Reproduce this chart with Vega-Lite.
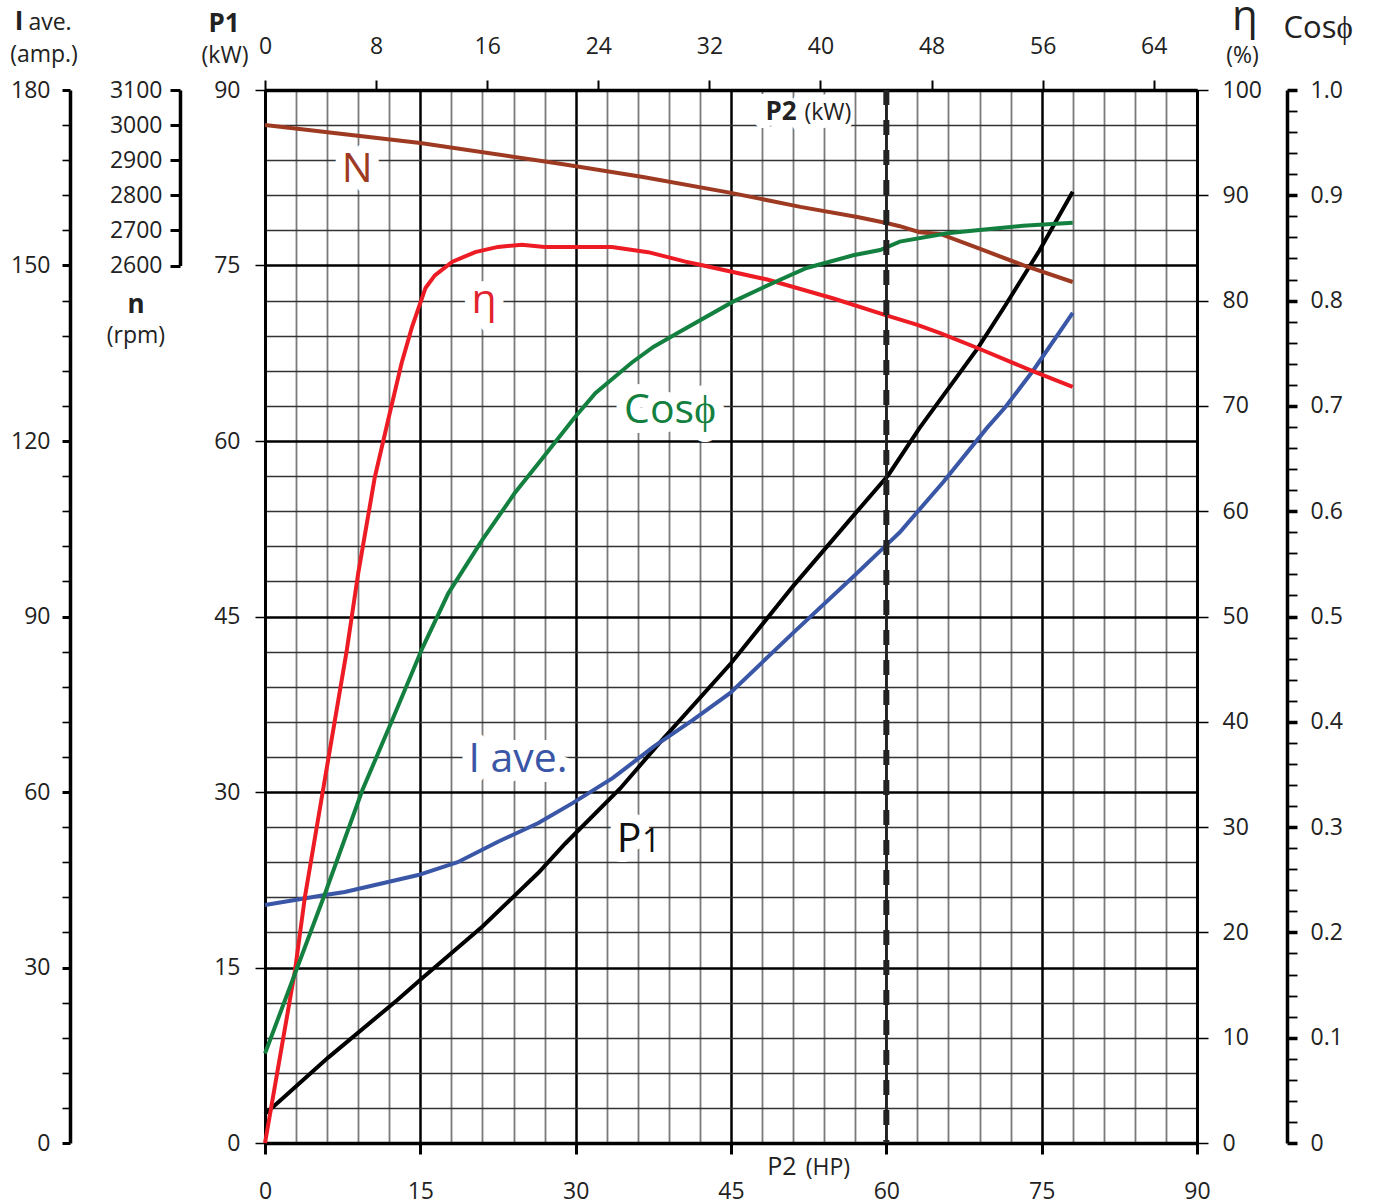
{
  "$schema": "https://vega.github.io/schema/vega-lite/v6.json",
  "width": 932,
  "height": 1053,
  "autosize": "none",
  "padding": {"left": 265, "top": 90, "right": 176, "bottom": 61},
  "background": "white",
  "config": {
    "font": "Open Sans",
    "view": {"stroke": null},
    "axis": {"labelFont": "Open Sans", "labelColor": "#222222", "labelFontSize": 23, "domainColor": "#000000", "tickColor": "#000000", "titleFont": "Open Sans", "grid": false, "labelFlush": false, "labelOverlap": false}
  },
  "datasets": {
    "p1": [{"hp":0,"kw":2.5},{"hp":0.8,"kw":3.1},{"hp":6.1,"kw":7.3},{"hp":12.75,"kw":12.2},{"hp":15.2,"kw":14.1},{"hp":21.0,"kw":18.5},{"hp":26.4,"kw":23.1},{"hp":29.0,"kw":25.6},{"hp":34.3,"kw":30.3},{"hp":38.1,"kw":34.2},{"hp":45.0,"kw":41.0},{"hp":51.0,"kw":47.6},{"hp":56.8,"kw":53.6},{"hp":60.2,"kw":57.1},{"hp":63.2,"kw":61.1},{"hp":68.8,"kw":67.9},{"hp":71.5,"kw":71.6},{"hp":74.8,"kw":76.3},{"hp":78.0,"kw":81.3}],
    "iave": [{"hp":0,"amp":40.7},{"hp":5.8,"amp":42.4},{"hp":7.7,"amp":42.9},{"hp":14.8,"amp":45.8},{"hp":18.6,"amp":48.0},{"hp":22.5,"amp":51.5},{"hp":26.4,"amp":54.7},{"hp":29.7,"amp":58.1},{"hp":33.6,"amp":62.4},{"hp":37.5,"amp":67.7},{"hp":41.3,"amp":72.3},{"hp":44.9,"amp":76.9},{"hp":51.0,"amp":87.2},{"hp":56.8,"amp":96.8},{"hp":60.0,"amp":102.2},{"hp":61.3,"amp":104.4},{"hp":65.5,"amp":113.0},{"hp":69.7,"amp":122.2},{"hp":71.5,"amp":125.8},{"hp":74.2,"amp":132.1},{"hp":78.0,"amp":141.9}],
    "eta": [{"hp":0,"eta":0},{"hp":1.45,"eta":8.2},{"hp":2.9,"eta":16.4},{"hp":3.86,"eta":23.4},{"hp":5.6,"eta":33.5},{"hp":7.9,"eta":46.8},{"hp":9.0,"eta":54.1},{"hp":10.6,"eta":63.2},{"hp":11.9,"eta":68.7},{"hp":13.2,"eta":74.1},{"hp":14.2,"eta":77.5},{"hp":15.5,"eta":81.2},{"hp":16.4,"eta":82.4},{"hp":18.1,"eta":83.7},{"hp":20.3,"eta":84.6},{"hp":22.5,"eta":85.1},{"hp":24.8,"eta":85.3},{"hp":27.0,"eta":85.1},{"hp":33.5,"eta":85.1},{"hp":37.0,"eta":84.6},{"hp":40.6,"eta":83.7},{"hp":42.0,"eta":83.4},{"hp":48.5,"eta":82.0},{"hp":54.9,"eta":80.2},{"hp":60.0,"eta":78.6},{"hp":63.0,"eta":77.7},{"hp":65.2,"eta":76.9},{"hp":68.8,"eta":75.5},{"hp":73.9,"eta":73.4},{"hp":78.0,"eta":71.8}],
    "cos": [{"hp":0,"cos":0.085},{"hp":2.9,"cos":0.161},{"hp":5.8,"cos":0.237},{"hp":9.4,"cos":0.335},{"hp":12.3,"cos":0.402},{"hp":15.2,"cos":0.47},{"hp":17.7,"cos":0.522},{"hp":21.0,"cos":0.573},{"hp":24.1,"cos":0.617},{"hp":26.7,"cos":0.649},{"hp":29.9,"cos":0.689},{"hp":31.9,"cos":0.712},{"hp":35.4,"cos":0.741},{"hp":37.5,"cos":0.756},{"hp":39.8,"cos":0.769},{"hp":45.2,"cos":0.799},{"hp":49.1,"cos":0.817},{"hp":52.3,"cos":0.831},{"hp":56.8,"cos":0.843},{"hp":59.4,"cos":0.848},{"hp":61.3,"cos":0.856},{"hp":65.9,"cos":0.864},{"hp":69.0,"cos":0.867},{"hp":73.2,"cos":0.871},{"hp":78.0,"cos":0.874}],
    "rpm": [{"hp":0,"rpm":3000},{"hp":15.0,"rpm":2949},{"hp":28.5,"rpm":2890},{"hp":36.5,"rpm":2852},{"hp":45.0,"rpm":2807},{"hp":51.7,"rpm":2767},{"hp":57.2,"rpm":2738},{"hp":60.0,"rpm":2721},{"hp":61.3,"rpm":2712},{"hp":63.2,"rpm":2695},{"hp":65.2,"rpm":2690},{"hp":69.0,"rpm":2648},{"hp":73.2,"rpm":2601},{"hp":78.0,"rpm":2553}],
    "labels": [{"text":"N","hp":8.91,"kw":82.16,"curve":"N"},{"text":"η","hp":21.15,"kw":70.91,"curve":"η"},{"text":"Cosϕ","hp":39.1,"kw":61.5,"curve":"Cosϕ"},{"text":"I ave.","hp":24.43,"kw":31.74,"curve":"I ave."},{"text":"P","hp":35.15,"kw":24.9,"curve":"P1"}],
    "labelSub": [{"text":"1","hp":37.3,"kw":24.9,"curve":"P1"}]
  },
  "layer": [
    {
      "data": {"name": "p1"},
      "mark": {"type": "line", "color": "#000000", "strokeWidth": 4},
      "encoding": {
        "x": {"field": "hp", "type": "quantitative", "scale": {"domain": [0, 90], "nice": false, "zero": false},
          "axis": {"orient": "bottom", "title": null, "values": [0,3,6,9,12,15,18,21,24,27,30,33,36,39,42,45,48,51,54,57,60,63,66,69,72,75,78,81,84,87,90],
            "grid": true,
            "gridColor": {"condition": {"test": "datum.value % 15 === 0", "value": "#000000"}, "value": "#7a7a7a"},
            "gridWidth": {"condition": {"test": "datum.value % 15 === 0", "value": 2.5}, "value": 1.8},
            "tickOpacity": {"condition": {"test": "datum.value % 15 === 0", "value": 1}, "value": 0},
            "tickSize": 11, "tickWidth": 3, "domainWidth": 3.5,
            "labelExpr": "datum.value % 15 === 0 ? datum.label : ''",
            "labelBaseline": "alphabetic", "labelPadding": 44}},
        "y": {"field": "kw", "type": "quantitative", "scale": {"domain": [0, 90], "nice": false, "zero": false},
          "axis": {"orient": "left", "title": null, "values": [0,3,6,9,12,15,18,21,24,27,30,33,36,39,42,45,48,51,54,57,60,63,66,69,72,75,78,81,84,87,90],
            "grid": true,
            "gridColor": {"condition": {"test": "datum.value % 15 === 0", "value": "#000000"}, "value": "#333333"},
            "gridWidth": {"condition": {"test": "datum.value % 15 === 0", "value": 2.5}, "value": 1.4},
            "tickOpacity": {"condition": {"test": "datum.value % 15 === 0", "value": 1}, "value": 0},
            "tickSize": 10, "tickWidth": 1.5, "domainWidth": 3,
            "labelExpr": "datum.value % 15 === 0 ? datum.label : ''",
            "labelPadding": 15}}
      }
    },
    {
      "data": {"name": "iave"},
      "mark": {"type": "line", "color": "#3a56a6", "strokeWidth": 4},
      "encoding": {
        "x": {"field": "hp", "type": "quantitative", "scale": {"domain": [0, 90], "nice": false, "zero": false}, "axis": null},
        "y": {"field": "amp", "type": "quantitative", "scale": {"domain": [0, 180], "nice": false, "zero": false},
          "axis": {"orient": "left", "offset": 195, "title": null, "values": [0,6,12,18,24,30,36,42,48,54,60,66,72,78,84,90,96,102,108,114,120,126,132,138,144,150,156,162,168,174,180],
            "tickSize": 8,
            "tickWidth": {"condition": {"test": "datum.value % 30 === 0", "value": 3}, "value": 1.6},
            "domainWidth": 3.5,
            "labelExpr": "datum.value % 30 === 0 ? datum.label : ''",
            "labelPadding": 12}}
      }
    },
    {
      "data": {"name": "rpm"},
      "mark": {"type": "line", "color": "#9e3a22", "strokeWidth": 4},
      "encoding": {
        "x": {"field": "hp", "type": "quantitative", "scale": {"domain": [0, 90], "nice": false, "zero": false}, "axis": null},
        "y": {"field": "rpm", "type": "quantitative", "scale": {"domain": [2600, 3100], "range": [175.5, 0], "nice": false, "zero": false},
          "axis": {"orient": "left", "offset": 85, "title": null, "values": [2600,2700,2800,2900,3000,3100], "format": "d",
            "tickSize": 10, "tickWidth": 3, "domainWidth": 3.5, "labelPadding": 8}}
      }
    },
    {
      "data": {"name": "eta"},
      "mark": {"type": "line", "color": "#ed1c24", "strokeWidth": 4},
      "encoding": {
        "x": {"field": "hp", "type": "quantitative", "scale": {"domain": [0, 90], "nice": false, "zero": false}, "axis": null},
        "y": {"field": "eta", "type": "quantitative", "scale": {"domain": [0, 100], "nice": false, "zero": false},
          "axis": {"orient": "right", "title": null, "values": [0,10,20,30,40,50,60,70,80,90,100],
            "tickSize": 11, "tickWidth": 1.5, "domainWidth": 3, "labelPadding": 14}}
      }
    },
    {
      "data": {"name": "cos"},
      "mark": {"type": "line", "color": "#138040", "strokeWidth": 4},
      "encoding": {
        "x": {"field": "hp", "type": "quantitative", "scale": {"domain": [0, 90], "nice": false, "zero": false}, "axis": null},
        "y": {"field": "cos", "type": "quantitative", "scale": {"domain": [0, 1], "nice": false, "zero": false},
          "axis": {"orient": "right", "offset": 90, "title": null, "values": [0,0.02,0.04,0.06,0.08,0.1,0.12,0.14,0.16,0.18,0.2,0.22,0.24,0.26,0.28,0.3,0.32,0.34,0.36,0.38,0.4,0.42,0.44,0.46,0.48,0.5,0.52,0.54,0.56,0.58,0.6,0.62,0.64,0.66,0.68,0.7,0.72,0.74,0.76,0.78,0.8,0.82,0.84,0.86,0.88,0.9,0.92,0.94,0.96,0.98,1],
            "tickSize": 10,
            "tickWidth": {"condition": {"test": "abs(datum.value*10 - round(datum.value*10)) < 0.001", "value": 3.5}, "value": 1.8},
            "domainWidth": 3.5,
            "labelExpr": "datum.value === 0 ? '0' : (abs(datum.value*10 - round(datum.value*10)) < 0.001 ? format(datum.value, '.1f') : '')",
            "labelPadding": 13}}
      }
    },
    {
      "data": {"values": [{"kwp2": 0}, {"kwp2": 67.113}]},
      "mark": {"type": "point", "opacity": 0},
      "encoding": {
        "x": {"field": "kwp2", "type": "quantitative", "scale": {"domain": [0, 67.113], "nice": false, "zero": false},
          "axis": {"orient": "top", "title": null, "values": [0,8,16,24,32,40,48,56,64], "tickSize": 10, "tickWidth": 2, "domainWidth": 3.5, "labelBaseline": "alphabetic", "labelPadding": 27}},
        "y": {"datum": 45, "type": "quantitative", "scale": {"domain": [0, 90]}, "axis": null}
      }
    },
    {
      "data": {"values": [{"hp": 60}]},
      "mark": {"type": "rule", "color": "#222222", "strokeWidth": 2.5},
      "encoding": {
        "x": {"field": "hp", "type": "quantitative", "scale": {"domain": [0, 90], "nice": false, "zero": false}, "axis": null}
      }
    },
    {
      "data": {"values": [{"hp": 60}]},
      "mark": {"type": "rule", "color": "#222222", "strokeWidth": 6, "strokeDash": [15, 15]},
      "encoding": {
        "x": {"field": "hp", "type": "quantitative", "scale": {"domain": [0, 90], "nice": false, "zero": false}, "axis": null}
      }
    },
    {
      "data": {"name": "labels"},
      "mark": {"type": "text", "fontSize": 41, "align": "center", "baseline": "alphabetic", "fill": "white", "stroke": "white", "strokeWidth": 20, "strokeJoin": "round"},
      "encoding": {
        "x": {"field": "hp", "type": "quantitative", "scale": {"domain": [0, 90], "nice": false, "zero": false}, "axis": null},
        "y": {"field": "kw", "type": "quantitative", "scale": {"domain": [0, 90], "nice": false, "zero": false}, "axis": null},
        "text": {"field": "text"}
      }
    },
    {
      "data": {"name": "labels"},
      "mark": {"type": "text", "fontSize": 41, "align": "center", "baseline": "alphabetic"},
      "encoding": {
        "x": {"field": "hp", "type": "quantitative", "scale": {"domain": [0, 90], "nice": false, "zero": false}, "axis": null},
        "y": {"field": "kw", "type": "quantitative", "scale": {"domain": [0, 90], "nice": false, "zero": false}, "axis": null},
        "text": {"field": "text"},
        "color": {"field": "curve", "type": "nominal", "scale": {"domain": ["N", "η", "Cosϕ", "I ave.", "P1"], "range": ["#9e3a22", "#e3232c", "#138040", "#3a56a6", "#111111"]}, "legend": null}
      }
    },
    {
      "data": {"name": "labelSub"},
      "mark": {"type": "text", "fontSize": 32, "align": "center", "baseline": "alphabetic"},
      "encoding": {
        "x": {"field": "hp", "type": "quantitative", "scale": {"domain": [0, 90], "nice": false, "zero": false}, "axis": null},
        "y": {"field": "kw", "type": "quantitative", "scale": {"domain": [0, 90], "nice": false, "zero": false}, "axis": null},
        "text": {"field": "text"},
        "color": {"field": "curve", "type": "nominal", "scale": {"domain": ["N", "η", "Cosϕ", "I ave.", "P1"], "range": ["#9e3a22", "#e3232c", "#138040", "#3a56a6", "#111111"]}, "legend": null}
      }
    },
    {
      "data": {"values": [{"text": "P2 (kW)", "hp": 52.0, "kw": 87.44}]},
      "mark": {"type": "text", "fontSize": 25, "align": "center", "baseline": "alphabetic", "fill": "white", "stroke": "white", "strokeWidth": 16, "strokeJoin": "round"},
      "encoding": {
        "x": {"field": "hp", "type": "quantitative", "scale": {"domain": [0, 90], "nice": false, "zero": false}, "axis": null},
        "y": {"field": "kw", "type": "quantitative", "scale": {"domain": [0, 90], "nice": false, "zero": false}, "axis": null},
        "text": {"field": "text"}
      }
    },
    {
      "data": {"values": [{"text": "I", "hp": -23.75, "kw": 95.13}, {"text": "P1", "hp": -3.96, "kw": 95.0}, {"text": "n", "hp": -12.46, "kw": 70.94}, {"text": "P2", "hp": 49.83, "kw": 87.44}]},
      "mark": {"type": "text", "fontSize": 26, "fontWeight": "bold", "align": "center", "baseline": "alphabetic", "color": "#222222"},
      "encoding": {
        "x": {"field": "hp", "type": "quantitative", "scale": {"domain": [0, 90], "nice": false, "zero": false}, "axis": null},
        "y": {"field": "kw", "type": "quantitative", "scale": {"domain": [0, 90], "nice": false, "zero": false}, "axis": null},
        "text": {"field": "text"}
      }
    },
    {
      "data": {"values": [{"text": "ave.", "hp": -20.76, "kw": 95.13}, {"text": "(amp.)", "hp": -21.34, "kw": 92.39}, {"text": "(kW)", "hp": -3.86, "kw": 92.3}, {"text": "(rpm)", "hp": -12.46, "kw": 68.38}, {"text": "(%)", "hp": 94.4, "kw": 92.3}, {"text": "(kW)", "hp": 54.36, "kw": 87.44}, {"text": "(HP)", "hp": 54.36, "kw": -2.74}]},
      "mark": {"type": "text", "fontSize": 23, "align": "center", "baseline": "alphabetic", "color": "#222222"},
      "encoding": {
        "x": {"field": "hp", "type": "quantitative", "scale": {"domain": [0, 90], "nice": false, "zero": false}, "axis": null},
        "y": {"field": "kw", "type": "quantitative", "scale": {"domain": [0, 90], "nice": false, "zero": false}, "axis": null},
        "text": {"field": "text"}
      }
    },
    {
      "data": {"values": [{"text": "P2", "hp": 49.92, "kw": -2.74}]},
      "mark": {"type": "text", "fontSize": 25, "align": "center", "baseline": "alphabetic", "color": "#222222"},
      "encoding": {
        "x": {"field": "hp", "type": "quantitative", "scale": {"domain": [0, 90], "nice": false, "zero": false}, "axis": null},
        "y": {"field": "kw", "type": "quantitative", "scale": {"domain": [0, 90], "nice": false, "zero": false}, "axis": null},
        "text": {"field": "text"}
      }
    },
    {
      "data": {"values": [{"text": "η", "hp": 94.63, "kw": 95.13}]},
      "mark": {"type": "text", "fontSize": 42, "align": "center", "baseline": "alphabetic", "color": "#222222"},
      "encoding": {
        "x": {"field": "hp", "type": "quantitative", "scale": {"domain": [0, 90], "nice": false, "zero": false}, "axis": null},
        "y": {"field": "kw", "type": "quantitative", "scale": {"domain": [0, 90], "nice": false, "zero": false}, "axis": null},
        "text": {"field": "text"}
      }
    },
    {
      "data": {"values": [{"text": "Cosϕ", "hp": 101.7, "kw": 94.44}]},
      "mark": {"type": "text", "fontSize": 31, "align": "center", "baseline": "alphabetic", "color": "#222222"},
      "encoding": {
        "x": {"field": "hp", "type": "quantitative", "scale": {"domain": [0, 90], "nice": false, "zero": false}, "axis": null},
        "y": {"field": "kw", "type": "quantitative", "scale": {"domain": [0, 90], "nice": false, "zero": false}, "axis": null},
        "text": {"field": "text"}
      }
    }
  ],
  "resolve": {"scale": {"x": "independent", "y": "independent"}, "axis": {"x": "independent", "y": "independent"}}
}
